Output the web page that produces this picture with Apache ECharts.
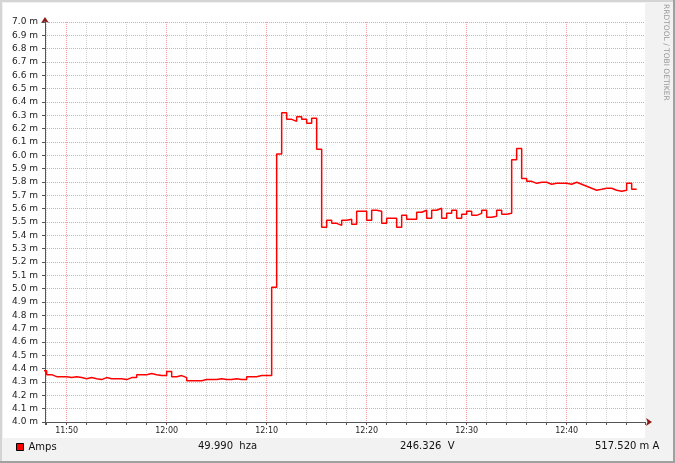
<!DOCTYPE html>
<html><head><meta charset="utf-8">
<script src="https://cdn.jsdelivr.net/npm/echarts@6/dist/echarts.min.js"></script>
<style>
html,body{margin:0;padding:0;}
#wrap{position:relative;width:675px;height:463px;background:#f2f2f2;overflow:hidden}
#white{position:absolute;left:3px;top:3px;width:642px;height:435px;background:#fff}
#shL{position:absolute;left:0;top:0;width:2px;height:463px;background:#d4d4d4}
#shT{position:absolute;left:0;top:0;width:675px;height:2px;background:#d4d4d4}
#shR{position:absolute;right:0;top:0;width:2px;height:463px;background:#a0a0a0}
#shB{position:absolute;left:0;bottom:0;width:675px;height:2px;background:#a0a0a0}
#c{position:absolute;left:0;top:0;width:675px;height:463px}
</style>
</head><body>
<div id="wrap"><div id="white"></div><div id="shL"></div><div id="shT"></div><div id="shR"></div><div id="shB"></div><div id="c"></div></div>
<script>
// ---- data ----
const seriesName = 'Amps';
const stepStart = '11:47:30';   // start of first 30 s interval
const stepSeconds = 30;
const amps = [ // milli-amps per 30 s interval
  4.385, 4.355, 4.34, 4.34, 4.34, 4.333, 4.34, 4.333, 4.325, 4.333,
  4.325, 4.318, 4.333, 4.325, 4.325, 4.325, 4.318, 4.333, 4.333, 4.355,
  4.355, 4.363, 4.355, 4.348, 4.348, 4.378, 4.34, 4.348, 4.333, 4.31,
  4.31, 4.31, 4.318, 4.318, 4.318, 4.325, 4.318, 4.318, 4.325, 4.318,
  4.318, 4.34, 4.34, 4.348, 4.348, 4.348, 5.01, 6.01, 6.32, 6.27,
  6.255, 6.29, 6.27, 6.24, 6.278, 6.045, 5.46, 5.513, 5.49, 5.475,
  5.513, 5.52, 5.483, 5.58, 5.58, 5.513, 5.588, 5.58, 5.49, 5.528,
  5.528, 5.46, 5.55, 5.52, 5.52, 5.573, 5.588, 5.528, 5.588, 5.603,
  5.528, 5.565, 5.588, 5.528, 5.558, 5.58, 5.55, 5.565, 5.588, 5.535,
  5.543, 5.588, 5.558, 5.565, 5.967, 6.052, 5.827, 5.805, 5.79, 5.798,
  5.798, 5.783, 5.79, 5.79, 5.79, 5.783, 5.798, 5.783, 5.768, 5.753,
  5.738, 5.745, 5.753, 5.753, 5.738, 5.73, 5.738, 5.79, 5.745
];
const axisStart = '11:47:50';
const axisEnd = '12:47:50';
const yMin = 4.0, yMax = 7.0, yStep = 0.1;
const readings = [
  {text: '49.990  hza', x: 198},
  {text: '246.326  V', x: 400},
  {text: '517.520 m A', x: 595}
];
const sideTitle = 'RRDTOOL / TOBI OETIKER';

// ---- helpers ----
function toMin(s){const p=s.split(':').map(Number);return p[0]*60+p[1]+(p[2]||0)/60;}
function fmtTime(m){const h=Math.floor(m/60), mm=Math.round(m-h*60);return h+':'+(mm<10?'0':'')+mm;}
const t0 = toMin(stepStart), dt = stepSeconds/60;
const lineData = amps.map((v,i)=>[t0+i*dt, v]);
lineData.push([t0+amps.length*dt, amps[amps.length-1]]);
const xMin = toMin(axisStart), xMax = toMin(axisEnd);

const FONT = 'DejaVu Sans';
const chart = echarts.init(document.getElementById('c'), null, {renderer:'canvas'});
chart.setOption({
  animation: false,
  backgroundColor: 'transparent',
  textStyle: {fontFamily: FONT},
  grid: {left: 45, top: 22, width: 600, height: 400, show: false},
  legend: {
    data: [{name: seriesName, icon: 'rect'}],
    left: 16, top: 442, padding: 0, itemWidth: 7, itemHeight: 7, itemGap: 4,
    textStyle: {fontFamily: FONT, fontSize: 10, color: '#111', padding:[0,0,0,0]},
    itemStyle: {borderColor: '#000', borderWidth: 1}
  },
  xAxis: [{
    type: 'value', min: xMin, max: xMax, splitNumber: 30, minInterval: 2, maxInterval: 2,
    z: 1,
    axisLine: {show: true, lineStyle: {color: '#555', width: 1}, symbol: ['none','none']},
    axisTick: {show: true, length: 3, lineStyle: {color: '#555'}},
    axisLabel: {show: false},
    splitLine: {show: true, showMinLine: false, showMaxLine: false, lineStyle: {color: '#d2d2d2', type: [1,1], width: 1}}
  },{
    type: 'value', min: xMin, max: xMax, splitNumber: 6, minInterval: 10, maxInterval: 10,
    position: 'bottom', z: 2,
    axisLine: {show: false},
    axisTick: {show: false},
    axisLabel: {show: true, showMinLabel: false, showMaxLabel: false, margin: 5,
      fontFamily: FONT, fontSize: 8, color: '#222',
      formatter: v => (Math.abs(v/10 - Math.round(v/10)) < 1e-6 ? fmtTime(v) : '')},
    splitLine: {show: true, showMinLine: false, showMaxLine: false, lineStyle: {color: '#f2a0a0', type: [1,1], width: 1}}
  },{
    type: 'value', min: xMin, max: xMax, position: 'bottom', z: 0,
    axisLine: {show: true, symbol: ['none','arrow'], symbolSize: [6,6], symbolOffset: [0,7], lineStyle: {color: '#8b1a1a', width: 1}},
    axisTick: {show: false}, axisLabel: {show: false}, splitLine: {show: false}
  }],
  yAxis: [{
    type: 'value', min: yMin, max: yMax, interval: yStep, z: 2,
    axisLine: {show: true, lineStyle: {color: '#555', width: 1}},
    axisTick: {show: true, length: 3, lineStyle: {color: '#555'}},
    axisLabel: {show: true, margin: 7, fontFamily: FONT, fontSize: 9, color: '#222',
      formatter: v => v.toFixed(1) + ' m'},
    splitLine: {show: true, showMinLine: false, lineStyle: {color: '#f2a0a0', type: [1,1], width: 1}}
  },{
    type: 'value', min: yMin, max: yMax, position: 'left', z: 0,
    axisLine: {show: true, symbol: ['none','arrow'], symbolSize: [6,6], symbolOffset: [0,5], lineStyle: {color: '#8b1a1a', width: 1}},
    axisTick: {show: false}, axisLabel: {show: false}, splitLine: {show: false}
  }],
  graphic: [
    ...readings.map(r => ({type: 'text', left: r.x, top: 441,
      style: {text: r.text, fontFamily: FONT, fontSize: 10, fill: '#111'}})),
    {type: 'text', x: 670, y: 4, rotation: -Math.PI/2,
      style: {text: sideTitle, fontFamily: FONT, fontSize: 7.5, fill: '#999'}}
  ],
  series: [{
    name: seriesName, type: 'line', step: 'end', data: lineData,
    xAxisIndex: 0, yAxisIndex: 0,
    showSymbol: false, symbol: 'none', z: 5,
    color: '#ff0000',
    lineStyle: {color: '#ff0000', width: 1.5},
    itemStyle: {color: '#ff0000'}
  }]
});
</script>
</body></html>
